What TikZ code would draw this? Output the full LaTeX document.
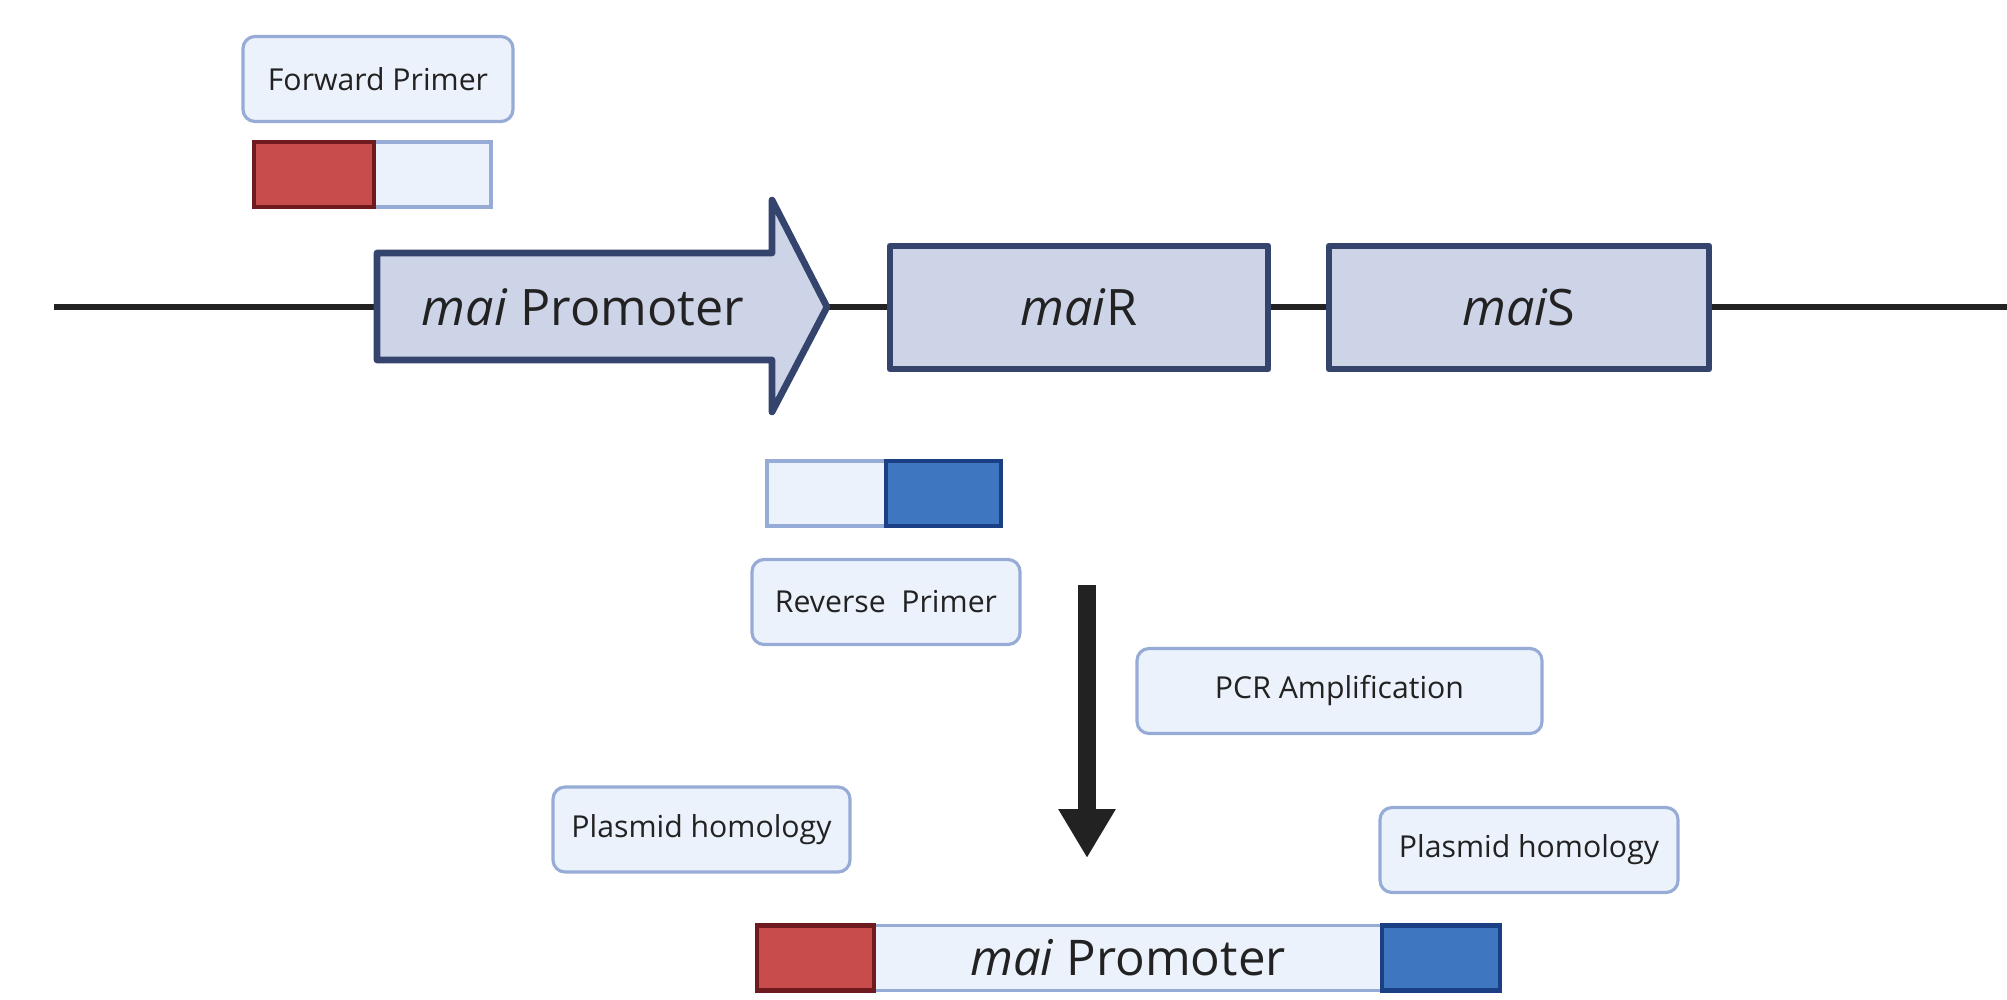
\documentclass[tikz,border=0pt]{standalone}
\usepackage{fontspec}
\setmainfont{Open Sans}
\usetikzlibrary{arrows.meta,positioning}
\definecolor{boxfill}{RGB}{236,242,251}
\definecolor{boxline}{RGB}{150,172,214}
\definecolor{genefill}{RGB}{206,212,232}
\definecolor{geneline}{RGB}{52,68,108}
\definecolor{redfill}{RGB}{201,76,76}
\definecolor{redline}{RGB}{110,26,31}
\definecolor{bluefill}{RGB}{62,118,192}
\definecolor{blueline}{RGB}{27,63,132}
\definecolor{ink}{RGB}{34,34,34}

\begin{document}
\begin{tikzpicture}[y=-1cm,
  lbl/.style={draw=boxline,fill=boxfill,line width=0.9pt,rounded corners=1.2mm,minimum height=8.5mm,inner sep=0pt,text=ink,font=\fontsize{8.6}{10}\selectfont},
  gene/.style={draw=geneline,fill=genefill,line width=1.9pt,line join=round,text=ink,font=\fontsize{14.3}{16}\selectfont},
  plain/.style={draw=boxline,fill=boxfill,line width=1pt,minimum height=6.5mm,inner sep=0pt,outer sep=0pt,text=ink},
  redend/.style={draw=redline,fill=redfill,line width=1.2pt,minimum height=6.5mm,minimum width=1.2cm,inner sep=0pt,outer sep=0pt},
  blueend/.style={draw=blueline,fill=bluefill,line width=1.2pt,minimum height=6.5mm,minimum width=1.15cm,inner sep=0pt,outer sep=0pt}]
\useasboundingbox (0,0) rectangle (20.07,9.99);

% backbone
\coordinate (lstart) at (0.54,3.07);
\coordinate (lend) at (20.07,3.07);
\draw[ink,line width=1.8pt] (lstart)--(lend);

% promoter arrow and genes
\draw[gene] (3.77,2.53)--(7.72,2.53)--(7.72,2.00)--(8.27,3.07)--(7.72,4.12)--(7.72,3.60)--(3.77,3.60)--cycle;
\node[text=ink,font=\fontsize{14.3}{16}\selectfont] (prom) at (5.83,3.07) {\textit{mai} Promoter};
\node[gene,minimum width=3.78cm,minimum height=1.23cm] (mair) at (10.79,3.075) {\textit{mai}R};
\node[gene,minimum width=3.80cm,minimum height=1.23cm] (mais) at (15.19,3.075) {\textit{mai}S};

% primers
\node[lbl,minimum width=2.70cm] (fwdlbl) at (3.78,0.79) {Forward Primer};
\node[plain,minimum width=1.17cm] (fwdtail) at (4.325,1.745) {};
\node[redend,left=0pt of fwdtail] (fwdend) {};
\node[plain,minimum width=1.19cm] (revtail) at (8.265,4.935) {};
\node[blueend,right=0pt of revtail] (revend) {};
\node[lbl,minimum width=2.68cm] (revlbl) at (8.86,6.02) {Reverse\ \ Primer};

% amplification
\coordinate (pcrtop) at (10.87,5.85);
\coordinate (pcrend) at (10.87,8.58);
\draw[ink,line width=5pt,-{Triangle[width=0.54cm,length=0.49cm]}] (pcrtop)--(pcrend);
\node[lbl,minimum width=4.05cm] (pcr) at (13.395,6.91) {PCR Amplification};
\node[lbl,minimum width=2.97cm] (homl) at (7.015,8.295) {Plasmid homology};
\node[lbl,minimum width=2.98cm] (homr) at (15.29,8.50) {Plasmid homology};

% product
\node[plain,minimum width=5.08cm,font=\fontsize{14}{16}\selectfont] (insert) at (11.28,9.58) {\textit{mai} Promoter};
\node[redend,minimum width=1.17cm,left=0pt of insert] (insl) {};
\node[blueend,minimum width=1.18cm,right=0pt of insert] (insr) {};
\end{tikzpicture}
\end{document}
